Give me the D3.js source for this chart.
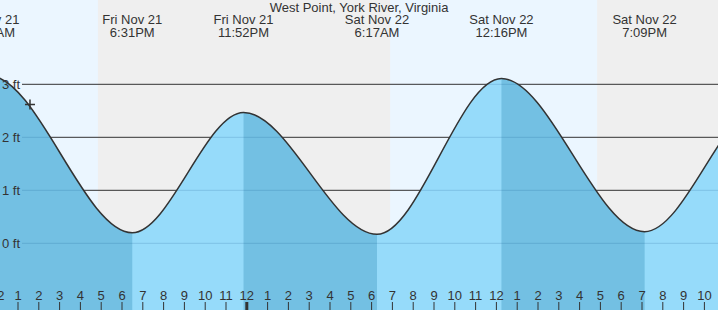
<!DOCTYPE html>
<html>
<head>
<meta charset="utf-8">
<script src="https://cdn.jsdelivr.net/npm/d3@7"></script>
<style>
  body { margin: 0; background: #fff; }
  svg { display: block; font-family: "Liberation Sans", Arial, sans-serif; }
</style>
</head>
<body>
<svg id="chart" width="718" height="310"></svg>
<script>
var title = "West Point, York River, Virginia";
// tide extremes (first and last are just outside the view)
var tideTimes = ["2025-11-21T05:20", "2025-11-21T11:39", "2025-11-21T18:31", "2025-11-21T23:52",
                 "2025-11-22T06:17", "2025-11-22T12:16", "2025-11-22T19:09", "2025-11-23T01:00", "2025-11-23T07:30"];
var tideHeights = [0.1, 3.16, 0.2, 2.47, 0.17, 3.11, 0.22, 2.7, 0.15];
var sunsets = ["2025-11-21T16:52", "2025-11-22T16:52"];
var sunrises = ["2025-11-22T06:55"];
var heightTicks = [0, 1, 2, 3];
var viewStart = "2025-11-21T12:09:30", viewEnd = "2025-11-22T22:40:40";
var nowTime = "2025-11-21T13:36:00", nowHeight = 2.62;

var W = 718, H = 310;
var parse = function(s) { return new Date(s); };
var times = tideTimes.map(parse);

var x = d3.scaleTime().domain([parse(viewStart), parse(viewEnd)]).range([0, W]);
var y = d3.scaleLinear().domain([0, 3]).range([243.3, 84.3]);

var svg = d3.select("#chart");
var defs = svg.append("defs");

// sky: day background with night bands
svg.append("rect").attr("width", W).attr("height", H).attr("fill", "#ebf6ff");
var nights = sunsets.map(function(s, i) {
  return [parse(s), sunrises[i] ? parse(sunrises[i]) : parse(viewEnd)];
});
svg.selectAll(".night").data(nights).enter().append("rect")
  .attr("class", "night")
  .attr("x", function(d) { return x(d[0]); })
  .attr("width", function(d) { return x(d[1]) - x(d[0]); })
  .attr("y", 0).attr("height", H)
  .attr("fill", "#efefef");

// grid lines (sky part)
svg.selectAll(".grid").data(heightTicks).enter().append("line")
  .attr("class", "grid")
  .attr("x1", 22).attr("x2", W)
  .attr("y1", function(d) { return y(d); }).attr("y2", function(d) { return y(d); })
  .attr("stroke", "#333").attr("stroke-width", 1);

var pts = times.map(function(t, i) { return [t, tideHeights[i]]; });
var area = d3.area()
  .x(function(d) { return x(d[0]); })
  .y0(H)
  .y1(function(d) { return y(d[1]); })
  .curve(d3.curveMonotoneX);
var line = d3.line()
  .x(function(d) { return x(d[0]); })
  .y(function(d) { return y(d[1]); })
  .curve(d3.curveMonotoneX);

defs.append("clipPath").attr("id", "water").append("path").attr("d", area(pts));

var water = svg.append("g").attr("clip-path", "url(#water)");
water.append("rect").attr("width", W).attr("height", H).attr("fill", "#96dbfa");
var falling = pts.slice(0, -1).map(function(d, i) { return [d, pts[i + 1]]; })
  .filter(function(s) { return s[0][1] > s[1][1]; });
water.selectAll(".fall").data(falling).enter().append("rect")
  .attr("class", "fall")
  .attr("x", function(s) { return x(s[0][0]); })
  .attr("width", function(s) { return x(s[1][0]) - x(s[0][0]); })
  .attr("y", 0).attr("height", H)
  .attr("fill", "#73c0e3");
water.selectAll(".wgrid").data(heightTicks).enter().append("line")
  .attr("x1", 22).attr("x2", W)
  .attr("y1", function(d) { return y(d); }).attr("y2", function(d) { return y(d); })
  .attr("stroke", "rgba(0,70,130,0.17)").attr("stroke-width", 1);

svg.append("path").attr("d", line(pts))
  .attr("fill", "none").attr("stroke", "#333").attr("stroke-width", 1.5);

// height labels
svg.selectAll(".ylab").data(heightTicks).enter().append("text")
  .attr("x", 2).attr("y", function(d) { return y(d) + 4.5; })
  .attr("font-size", 13).attr("fill", "#333")
  .text(function(d) { return d + " ft"; });

// hour axis (one extra hour each side so partly visible labels show)
var hours = d3.timeHour.range(d3.timeHour.offset(x.domain()[0], -1), d3.timeHour.offset(x.domain()[1], 1));
var axis = svg.append("g").attr("transform", "translate(0," + H + ")")
  .call(d3.axisTop(x).tickValues(hours).tickFormat(d3.timeFormat("%-I"))
    .tickSize(8).tickPadding(2));
axis.select(".domain").remove();
axis.selectAll("text").attr("font-size", 13).attr("fill", "#333")
  .attr("font-family", "Liberation Sans, Arial, sans-serif");
axis.selectAll("line").attr("stroke", "#333")
  .attr("stroke-width", function(d) { return d.getHours() === 0 ? 3 : 1; });

// tide labels (only extremes near the view)
var fDay = d3.timeFormat("%a %b %-d"), fTime = d3.timeFormat("%-I:%M%p");
var shown = pts.filter(function(d) { return x(d[0]) > -40 && x(d[0]) < W + 40; });
var labs = svg.selectAll(".tlab").data(shown).enter().append("text")
  .attr("text-anchor", "middle").attr("font-size", 13).attr("fill", "#333");
labs.append("tspan").attr("x", function(d) { return x(d[0]); }).attr("y", 24.3)
  .text(function(d) { return fDay(d[0]); });
labs.append("tspan").attr("x", function(d) { return x(d[0]); }).attr("y", 37)
  .text(function(d) { return fTime(d[0]); });

svg.append("text").attr("x", W / 2).attr("y", 12)
  .attr("text-anchor", "middle").attr("font-size", 13).attr("fill", "#333")
  .text(title);

// current time marker
var nx = x(parse(nowTime)), ny = y(nowHeight);
svg.append("path")
  .attr("d", "M" + (nx - 5) + "," + ny + "H" + (nx + 5) + "M" + nx + "," + (ny - 5) + "V" + (ny + 5))
  .attr("stroke", "#333").attr("stroke-width", 1.5);
</script>
</body>
</html>
